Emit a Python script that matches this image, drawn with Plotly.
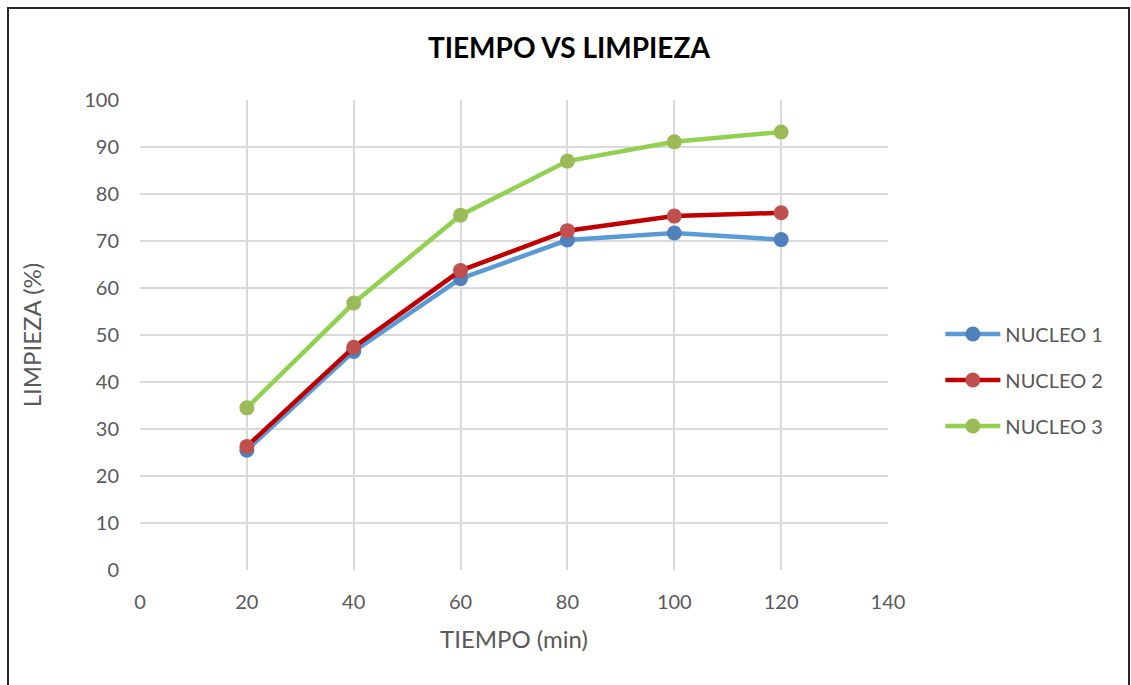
import plotly.graph_objects as go

tiempo = [20, 40, 60, 80, 100, 120]
nucleo1 = [25.5, 46.5, 62.0, 70.2, 71.7, 70.3]
nucleo2 = [26.3, 47.4, 63.7, 72.2, 75.3, 76.0]
nucleo3 = [34.5, 56.8, 75.5, 87.0, 91.1, 93.2]

series = [
    ("NUCLEO 1", nucleo1, "#5B9BD5", "#4F81BD"),
    ("NUCLEO 2", nucleo2, "#C00000", "#C0504D"),
    ("NUCLEO 3", nucleo3, "#92D050", "#9BBB59"),
]

fig = go.Figure()
for i, (name, ys, lc, mc) in enumerate(series):
    fig.add_trace(go.Scatter(
        x=tiempo, y=ys, name=name, mode="lines+markers",
        line=dict(color=lc, width=4.5),
        marker=dict(color=mc, size=15),
        legendgroup=f"g{i}",
    ))

font_family = "Lato, 'Liberation Sans', sans-serif"
fig.update_layout(
    width=1131, height=685,
    margin=dict(l=140, r=243, t=100, b=115),
    paper_bgcolor="white", plot_bgcolor="white",
    font=dict(family=font_family, color="#595959", size=20),
    title=dict(text="<b>TIEMPO VS LIMPIEZA</b>", x=0.503, xanchor="center",
               y=1 - 48 / 685, yanchor="middle",
               font=dict(size=28, color="black", family=font_family)),
    showlegend=True,
    legend=dict(x=1.07, xanchor="left", y=(570 - 380) / 470, yanchor="middle",
                font=dict(size=20, color="#595959"),
                tracegroupgap=17, itemwidth=55),
    xaxis=dict(range=[0, 140], tickvals=[0, 20, 40, 60, 80, 100, 120, 140],
               showgrid=True, gridcolor="#D9D9D9", gridwidth=1.5,
               zeroline=False, showline=False, ticks="", ticklabelstandoff=18,
               title=dict(text="TIEMPO (min)", font=dict(size=24, color="#595959"), standoff=19)),
    yaxis=dict(range=[0, 100], tickvals=list(range(0, 101, 10)),
               showgrid=True, gridcolor="#D9D9D9", gridwidth=1.5,
               zeroline=False, showline=False, ticks="", ticklabelstandoff=20,
               title=dict(text="LIMPIEZA (%)", font=dict(size=24, color="#595959"), standoff=35)),
    shapes=[dict(type="rect", xref="paper", yref="paper",
                 x0=(8 - 140) / 748, x1=(1129 - 140) / 748,
                 y0=-(685 - 570 + 10) / 470, y1=1 + (100 - 8) / 470,
                 line=dict(color="#262626", width=2), layer="below")],
)

fig.write_html("out.html")
